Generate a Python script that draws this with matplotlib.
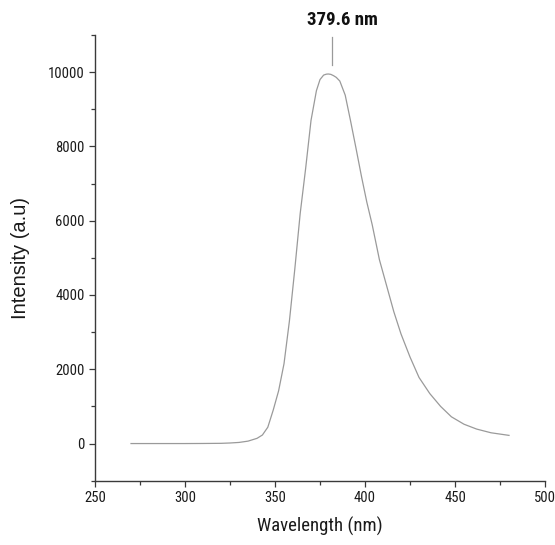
import matplotlib
matplotlib.use('Agg')
from matplotlib import pyplot as plt
from matplotlib.ticker import MultipleLocator

# emission spectrum
wavelength = [270, 280, 290, 300, 310, 320, 325, 330, 335, 340, 343, 346,
              349, 352, 355, 358, 361, 364, 367, 370, 373, 375, 377, 378.5,
              379.6, 381, 382.5, 384, 386, 389, 392, 395, 398, 401, 404, 408,
              412, 416, 420, 425, 430, 436, 442, 448, 455, 462, 470, 480]
intensity = [0, 0, 0, 0, 2, 6, 15, 30, 65, 140, 230, 440,
             900, 1420, 2150, 3300, 4700, 6200, 7400, 8700, 9500, 9800, 9920, 9945,
             9950, 9940, 9905, 9860, 9760, 9380, 8680, 7950, 7200, 6500, 5890, 4950,
             4250, 3550, 2950, 2330, 1780, 1345, 1000, 720, 520, 390, 290, 220]

peak_wl = 379.6
peak_label = '379.6 nm'
xticks = [250, 300, 350, 400, 450, 500]
yticks = [0, 2000, 4000, 6000, 8000, 10000]

narrow = ['Roboto Condensed', 'Archivo Narrow', 'Liberation Sans', 'DejaVu Sans']
axis_col = '#3a3a3a'
text_col = '#1a1a1a'

fig = plt.figure(figsize=(5.55, 5.45), dpi=100)
ax = fig.add_axes([0.1712, 0.118, 0.8108, 0.8178])

ax.plot(wavelength, intensity, color='#9a9a9a', lw=0.9)

ax.set_xlim(250, 500)
ax.set_ylim(-1000, 11000)
ax.set_xticks(xticks)
ax.set_yticks(yticks)
ax.xaxis.set_minor_locator(MultipleLocator(25))
ax.yaxis.set_minor_locator(MultipleLocator(1000))

for side in ['top', 'right']:
    ax.spines[side].set_visible(False)
for side in ['left', 'bottom']:
    ax.spines[side].set_color(axis_col)
    ax.spines[side].set_linewidth(1.0)

ax.tick_params(which='major', direction='out', length=4.5, width=0.9,
               color=axis_col, pad=3)
ax.tick_params(which='minor', direction='out', length=2.7, width=0.9,
               color=axis_col)
for lab in ax.get_xticklabels() + ax.get_yticklabels():
    lab.set_family(narrow)
    lab.set_fontsize(10.5)
    lab.set_color(text_col)

ax.set_xlabel('Wavelength (nm)', family=narrow, fontsize=13.5, color=text_col)
ax.xaxis.set_label_coords(0.5, -0.082)
ax.set_ylabel('Intensity (a.u)', family=['Liberation Sans', 'DejaVu Sans'],
              fontsize=14.5, color=text_col, va='center')
ax.yaxis.set_label_coords(-0.165, 0.5)

# peak marker
ax.plot([peak_wl + 1.9, peak_wl + 1.9], [10190, 10940], color='#9a9a9a',
        lw=0.9, clip_on=False)
ax.text(peak_wl + 8, 11400, peak_label, family=narrow, fontsize=13.5,
        fontweight='bold', ha='center', va='center', color='#111111',
        clip_on=False)

fig.savefig('out.png', dpi=100)
